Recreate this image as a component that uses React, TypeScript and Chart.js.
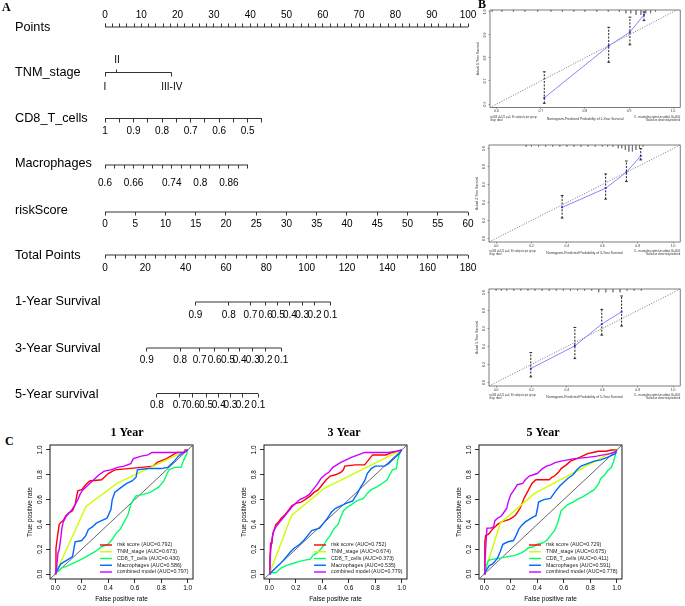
import React, { useEffect, useRef } from 'react';
import { Chart, registerables } from 'chart.js';

Chart.register(...registerables);

const SANS = '"Liberation Sans", Arial, Helvetica, sans-serif';
const SERIF = '"Liberation Serif", "Times New Roman", serif';

// ---------------- Panel A : nomogram ----------------
const NOMO_ROW_NAMES = ['Points', 'TNM_stage', 'CD8_T_cells', 'Macrophages', 'riskScore', 'Total Points', '1-Year Survival', '3-Year Survival', '5-Year survival'];
const POINTS_MAX = 100;
const POINTS_LABEL_STEP = 10;
const POINTS_MINOR_STEP = 2;
const TNM_LEVELS = ['I', 'II', 'III-IV'];
const TNM_POINTS = [0, 3.3, 18.4];
const CD8_TICK_VALUES = [1, 0.95, 0.9, 0.85, 0.8, 0.75, 0.7, 0.65, 0.6, 0.55, 0.5, 0.45];
const CD8_LABELS = ['1', '0.9', '0.8', '0.7', '0.6', '0.5'];
const CD8_POINTS_PER_UNIT = 78.6;
const MACRO_TICK_VALUES = [0.6, 0.62, 0.64, 0.66, 0.68, 0.7, 0.72, 0.74, 0.76, 0.78, 0.8, 0.82, 0.84, 0.86, 0.88, 0.9];
const MACRO_LABELS = ['0.6', '0.66', '0.74', '0.8', '0.86'];
const MACRO_MIN = 0.6;
const MACRO_POINTS_PER_UNIT = 131.3;
const RISK_TICK_VALUES = [0, 5, 10, 15, 20, 25, 30, 35, 40, 45, 50, 55, 60];
const RISK_MAX = 60;
const TOTAL_MAX = 180;
const TOTAL_LABEL_STEP = 20;
const TOTAL_MINOR_STEP = 5;
const SURV_1Y_LABELS = ['0.9', '0.8', '0.7', '0.6', '0.5', '0.4', '0.3', '0.2', '0.1'];
const SURV_1Y_TOTAL = [44.8, 61.4, 72.1, 79.6, 85.7, 91.7, 97.8, 103.9, 111.8];
const SURV_3Y_LABELS = ['0.9', '0.8', '0.7', '0.6', '0.5', '0.4', '0.3', '0.2', '0.1'];
const SURV_3Y_TOTAL = [20.7, 37.3, 46.9, 54.4, 61.0, 66.8, 73.3, 79.6, 87.4];
const SURV_5Y_LABELS = ['0.8', '0.7', '0.6', '0.5', '0.4', '0.3', '0.2', '0.1'];
const SURV_5Y_TOTAL = [25.7, 37.0, 43.6, 50.1, 56.4, 62.2, 68.3, 76.0];

// ---------------- Panel B : calibration ----------------
const CAL_1Y_PRED = [0.708, 0.854, 0.902, 0.934];
const CAL_1Y_OBS = [0.627, 0.852, 0.912, 0.987];
const CAL_1Y_LO = [0.603, 0.781, 0.857, 0.962];
const CAL_1Y_HI = [0.740, 0.933, 0.977, 1.0];
const CAL_1Y_RUG_X = [0.59, 0.612, 0.638, 0.664, 0.693, 0.723, 0.749, 0.775, 0.80, 0.827, 0.853, 0.878, 0.893, 0.904, 0.916, 0.927, 0.938, 0.949, 0.96];
const CAL_1Y_RUG_N = [1, 1, 1, 1, 1, 1, 1, 1, 1, 1, 1, 1, 2, 2, 3, 3, 2, 2, 1];
const CAL_1Y_TICKS = [0.6, 0.7, 0.8, 0.9, 1.0];

const CAL_3Y_PRED = [0.373, 0.619, 0.736, 0.817];
const CAL_3Y_OBS = [0.345, 0.559, 0.737, 0.918];
const CAL_3Y_LO = [0.226, 0.437, 0.633, 0.874];
const CAL_3Y_HI = [0.478, 0.718, 0.862, 1.0];
const CAL_3Y_RUG_X = [0.17, 0.2, 0.24, 0.28, 0.32, 0.36, 0.40, 0.44, 0.48, 0.52, 0.56, 0.60, 0.63, 0.66, 0.69, 0.71, 0.73, 0.75, 0.77, 0.79, 0.81, 0.83];
const CAL_3Y_RUG_N = [1, 1, 1, 1, 1, 1, 1, 1, 1, 1, 1, 1, 1, 1, 2, 2, 3, 4, 4, 3, 2, 1];

const CAL_5Y_PRED = [0.196, 0.445, 0.597, 0.709];
const CAL_5Y_OBS = [0.154, 0.407, 0.649, 0.787];
const CAL_5Y_LO = [0.061, 0.265, 0.526, 0.627];
const CAL_5Y_HI = [0.332, 0.612, 0.813, 0.962];
const CAL_5Y_RUG_X = [0.0, 0.03, 0.06, 0.1, 0.14, 0.18, 0.22, 0.26, 0.3, 0.34, 0.38, 0.42, 0.46, 0.5, 0.54, 0.58, 0.62, 0.66, 0.7, 0.74, 0.78, 0.82];
const CAL_5Y_RUG_N = [1, 1, 1, 1, 1, 1, 1, 1, 1, 1, 1, 1, 1, 1, 1, 2, 2, 2, 2, 1, 1, 1];
const CAL_UNIT_TICKS = [0, 0.2, 0.4, 0.6, 0.8, 1.0];

// ---------------- Panel C : ROC ----------------
const ROC_TICKS = [0, 0.2, 0.4, 0.6, 0.8, 1.0];
const ROC_COLORS = ['#FF0000', '#CCFF00', '#00FF66', '#0066FF', '#CC00FF'];
const ROC_MODELS = ['risk score', 'TNM_stage', 'CD8_T_cells', 'Macrophages', 'combined model'];
const AUC_1Y = ['0.792', '0.673', '0.430', '0.586', '0.797'];
const AUC_3Y = ['0.752', '0.674', '0.373', '0.535', '0.779'];
const AUC_5Y = ['0.729', '0.675', '0.411', '0.591', '0.778'];

const RISK_1Y = [[0, 0], [0.005, 0.21], [0.01, 0.25], [0.02, 0.33], [0.03, 0.40], [0.045, 0.42], [0.06, 0.43], [0.08, 0.47], [0.10, 0.49], [0.13, 0.51], [0.15, 0.56], [0.16, 0.62], [0.17, 0.67], [0.20, 0.68], [0.23, 0.72], [0.26, 0.75], [0.35, 0.76], [0.40, 0.81], [0.45, 0.84], [0.55, 0.85], [0.65, 0.86], [0.74, 0.87], [0.77, 0.90], [0.84, 0.93], [0.92, 0.98], [0.97, 0.98], [0.98, 1.0], [1, 1]];
const TNM_1Y = [[0, 0], [0.233, 0.547], [0.469, 0.733], [1, 1]];
const CD8_1Y = [[0, 0], [0.01, 0.02], [0.03, 0.03], [0.05, 0.05], [0.08, 0.06], [0.12, 0.08], [0.16, 0.10], [0.20, 0.12], [0.25, 0.15], [0.30, 0.18], [0.35, 0.22], [0.40, 0.24], [0.43, 0.28], [0.46, 0.33], [0.49, 0.36], [0.52, 0.42], [0.55, 0.48], [0.57, 0.56], [0.59, 0.60], [0.61, 0.63], [0.66, 0.64], [0.72, 0.66], [0.78, 0.70], [0.82, 0.75], [0.84, 0.80], [0.86, 0.84], [0.90, 0.86], [0.95, 0.86], [0.97, 0.92], [0.99, 0.96], [1, 1]];
const MAC_1Y = [[0, 0], [0.02, 0.04], [0.04, 0.08], [0.07, 0.10], [0.10, 0.12], [0.13, 0.14], [0.14, 0.20], [0.15, 0.26], [0.20, 0.27], [0.23, 0.31], [0.25, 0.36], [0.28, 0.38], [0.31, 0.41], [0.35, 0.43], [0.39, 0.45], [0.42, 0.52], [0.43, 0.60], [0.45, 0.66], [0.50, 0.70], [0.54, 0.73], [0.58, 0.75], [0.61, 0.78], [0.62, 0.84], [0.70, 0.85], [0.80, 0.85], [0.85, 0.86], [0.89, 0.90], [0.93, 0.95], [0.97, 0.98], [1, 1]];
const COMB_1Y = [[0, 0], [0.01, 0.05], [0.02, 0.17], [0.03, 0.20], [0.04, 0.28], [0.05, 0.37], [0.06, 0.42], [0.08, 0.46], [0.10, 0.49], [0.12, 0.51], [0.15, 0.56], [0.17, 0.60], [0.19, 0.65], [0.21, 0.68], [0.24, 0.71], [0.27, 0.74], [0.30, 0.77], [0.33, 0.80], [0.37, 0.83], [0.42, 0.84], [0.47, 0.86], [0.52, 0.87], [0.57, 0.89], [0.59, 0.93], [0.65, 0.95], [0.70, 0.96], [0.73, 0.98], [0.85, 0.98], [0.97, 0.98], [1, 1]];

const RISK_3Y = [[0, 0], [0.005, 0.13], [0.01, 0.25], [0.02, 0.25], [0.025, 0.31], [0.035, 0.35], [0.05, 0.40], [0.07, 0.42], [0.09, 0.45], [0.12, 0.48], [0.15, 0.52], [0.17, 0.55], [0.20, 0.57], [0.24, 0.58], [0.27, 0.60], [0.31, 0.63], [0.34, 0.66], [0.37, 0.68], [0.40, 0.72], [0.43, 0.76], [0.46, 0.79], [0.50, 0.80], [0.54, 0.82], [0.56, 0.84], [0.57, 0.87], [0.65, 0.88], [0.72, 0.88], [0.75, 0.92], [0.78, 0.96], [0.88, 0.96], [0.93, 0.98], [0.97, 0.99], [1, 1]];
const TNM_3Y = [[0, 0], [0.168, 0.472], [0.418, 0.693], [1, 1]];
const CD8_3Y = [[0, 0], [0.02, 0.01], [0.05, 0.01], [0.07, 0.03], [0.09, 0.05], [0.13, 0.07], [0.18, 0.085], [0.22, 0.10], [0.26, 0.11], [0.31, 0.12], [0.33, 0.15], [0.36, 0.17], [0.38, 0.19], [0.41, 0.23], [0.43, 0.27], [0.46, 0.31], [0.48, 0.35], [0.50, 0.38], [0.52, 0.40], [0.54, 0.46], [0.56, 0.51], [0.59, 0.54], [0.62, 0.56], [0.66, 0.59], [0.71, 0.61], [0.74, 0.65], [0.77, 0.68], [0.81, 0.70], [0.84, 0.72], [0.89, 0.76], [0.91, 0.80], [0.93, 0.84], [0.96, 0.85], [0.97, 0.92], [0.98, 0.96], [1, 1]];
const MAC_3Y = [[0, 0], [0.04, 0.04], [0.08, 0.08], [0.13, 0.14], [0.16, 0.18], [0.19, 0.21], [0.23, 0.24], [0.26, 0.27], [0.29, 0.31], [0.32, 0.35], [0.35, 0.36], [0.38, 0.37], [0.41, 0.41], [0.44, 0.45], [0.47, 0.50], [0.50, 0.53], [0.54, 0.55], [0.58, 0.57], [0.63, 0.59], [0.66, 0.64], [0.69, 0.70], [0.72, 0.75], [0.74, 0.81], [0.77, 0.85], [0.80, 0.87], [0.87, 0.87], [0.90, 0.89], [0.93, 0.92], [0.96, 0.95], [0.98, 0.97], [1, 1]];
const COMB_3Y = [[0, 0], [0.005, 0.10], [0.01, 0.18], [0.02, 0.28], [0.03, 0.34], [0.05, 0.38], [0.08, 0.42], [0.11, 0.46], [0.14, 0.50], [0.17, 0.54], [0.20, 0.57], [0.23, 0.60], [0.27, 0.62], [0.30, 0.64], [0.33, 0.68], [0.36, 0.72], [0.39, 0.77], [0.42, 0.80], [0.45, 0.82], [0.48, 0.86], [0.51, 0.88], [0.54, 0.90], [0.58, 0.92], [0.62, 0.94], [0.67, 0.96], [0.72, 0.98], [0.90, 0.98], [0.96, 0.99], [1, 1]];

const RISK_5Y = [[0, 0], [0.003, 0.10], [0.005, 0.26], [0.01, 0.31], [0.03, 0.32], [0.04, 0.33], [0.06, 0.36], [0.08, 0.38], [0.10, 0.40], [0.13, 0.42], [0.16, 0.43], [0.19, 0.44], [0.22, 0.46], [0.24, 0.48], [0.27, 0.53], [0.29, 0.58], [0.30, 0.61], [0.32, 0.65], [0.34, 0.69], [0.36, 0.73], [0.39, 0.76], [0.42, 0.76], [0.46, 0.76], [0.49, 0.76], [0.51, 0.78], [0.53, 0.79], [0.56, 0.82], [0.58, 0.85], [0.62, 0.88], [0.65, 0.91], [0.70, 0.93], [0.74, 0.95], [0.78, 0.97], [0.82, 0.98], [0.86, 0.99], [0.92, 0.99], [0.96, 1.0], [1, 1]];
const TNM_5Y = [[0, 0], [0.12, 0.41], [0.38, 0.65], [1, 1]];
const CD8_5Y = [[0, 0], [0.01, 0.04], [0.02, 0.08], [0.03, 0.11], [0.07, 0.12], [0.13, 0.13], [0.18, 0.14], [0.23, 0.15], [0.28, 0.17], [0.31, 0.19], [0.33, 0.21], [0.37, 0.22], [0.40, 0.24], [0.44, 0.25], [0.47, 0.27], [0.50, 0.31], [0.53, 0.35], [0.55, 0.40], [0.57, 0.47], [0.58, 0.51], [0.61, 0.54], [0.63, 0.56], [0.67, 0.58], [0.70, 0.60], [0.74, 0.62], [0.77, 0.64], [0.80, 0.66], [0.83, 0.68], [0.86, 0.72], [0.88, 0.77], [0.91, 0.80], [0.93, 0.83], [0.96, 0.86], [0.975, 0.90], [0.985, 0.94], [0.99, 0.96], [1, 1]];
const MAC_5Y = [[0, 0], [0.02, 0.04], [0.04, 0.07], [0.06, 0.08], [0.08, 0.10], [0.10, 0.13], [0.12, 0.18], [0.14, 0.24], [0.18, 0.26], [0.22, 0.27], [0.24, 0.31], [0.26, 0.36], [0.28, 0.39], [0.31, 0.42], [0.34, 0.44], [0.37, 0.46], [0.39, 0.47], [0.40, 0.52], [0.41, 0.58], [0.45, 0.60], [0.50, 0.61], [0.52, 0.64], [0.54, 0.67], [0.57, 0.71], [0.60, 0.74], [0.63, 0.77], [0.67, 0.80], [0.70, 0.84], [0.73, 0.87], [0.78, 0.89], [0.83, 0.91], [0.88, 0.92], [0.93, 0.94], [0.97, 0.96], [0.99, 0.97], [1, 1]];
const COMB_5Y = [[0, 0], [0.005, 0.08], [0.01, 0.20], [0.02, 0.37], [0.05, 0.37], [0.07, 0.38], [0.08, 0.43], [0.10, 0.45], [0.13, 0.47], [0.15, 0.50], [0.17, 0.53], [0.18, 0.58], [0.20, 0.64], [0.22, 0.67], [0.25, 0.72], [0.29, 0.73], [0.31, 0.76], [0.34, 0.79], [0.37, 0.80], [0.40, 0.81], [0.42, 0.83], [0.44, 0.85], [0.47, 0.87], [0.50, 0.88], [0.54, 0.90], [0.58, 0.91], [0.63, 0.92], [0.68, 0.93], [0.78, 0.94], [0.85, 0.95], [0.90, 0.96], [0.95, 0.97], [0.98, 0.98], [1, 1]];

// ---------------- helpers ----------------
const near = (a: number, b: number) => Math.abs(a - b) < 1e-6;

type Tick = { p: number; label: string };
type Row = { id: string; lineY: number; ticks: Tick[]; up?: boolean; pad: number; line?: boolean };

function buildNomoRows(): Row[] {
  const pointsTicks: Tick[] = [];
  for (let v = 0; v <= POINTS_MAX + 1e-9; v += POINTS_MINOR_STEP) {
    pointsTicks.push({ p: v, label: v % POINTS_LABEL_STEP === 0 ? String(v) : '' });
  }
  const totalTicks: Tick[] = [];
  for (let t = 0; t <= TOTAL_MAX + 1e-9; t += TOTAL_MINOR_STEP) {
    totalTicks.push({ p: (t / TOTAL_MAX) * POINTS_MAX, label: t % TOTAL_LABEL_STEP === 0 ? String(t) : '' });
  }
  const cd8Ticks = CD8_TICK_VALUES.map((v) => ({
    p: (1 - v) * CD8_POINTS_PER_UNIT,
    label: CD8_LABELS.find((l) => near(parseFloat(l), v)) || '',
  }));
  const macroTicks = MACRO_TICK_VALUES.map((v) => ({
    p: (v - MACRO_MIN) * MACRO_POINTS_PER_UNIT,
    label: MACRO_LABELS.find((l) => near(parseFloat(l), v)) || '',
  }));
  const riskTicks = RISK_TICK_VALUES.map((v) => ({ p: (v / RISK_MAX) * POINTS_MAX, label: String(v) }));
  const surv = (labels: string[], totals: number[]) =>
    labels.map((l, i) => ({ p: (totals[i] / TOTAL_MAX) * POINTS_MAX, label: l }));
  return [
    { id: 'xPoints', lineY: 27, ticks: pointsTicks, up: true, pad: -14.5, line: true },
    { id: 'xTnmUp', lineY: 72.5, ticks: [{ p: TNM_POINTS[1], label: TNM_LEVELS[1] }], up: true, pad: -15 },
    { id: 'xTnm', lineY: 72.5, ticks: [{ p: TNM_POINTS[0], label: TNM_LEVELS[0] }, { p: TNM_POINTS[2], label: TNM_LEVELS[2] }], pad: 5, line: true },
    { id: 'xCd8', lineY: 118.5, ticks: cd8Ticks, pad: 3.5, line: true },
    { id: 'xMacro', lineY: 165, ticks: macroTicks, pad: 8.5, line: true },
    { id: 'xRisk', lineY: 212, ticks: riskTicks, pad: 2.5, line: true },
    { id: 'xTotal', lineY: 255, ticks: totalTicks, pad: 3.5, line: true },
    { id: 'xS1', lineY: 302, ticks: surv(SURV_1Y_LABELS, SURV_1Y_TOTAL), pad: 3.5, line: true },
    { id: 'xS3', lineY: 348, ticks: surv(SURV_3Y_LABELS, SURV_3Y_TOTAL), pad: 3, line: true },
    { id: 'xS5', lineY: 393.5, ticks: surv(SURV_5Y_LABELS, SURV_5Y_TOTAL), pad: 2.5, line: true },
  ];
}

const ROW_LABEL_Y = [27, 72, 118, 163, 210, 255, 301.5, 348, 394];

function nomogramConfig(): any {
  const rows = buildNomoRows();
  const scales: any = {
    y: {
      type: 'linear', axis: 'y', position: 'left', min: 10, max: 405, reverse: true,
      grid: { display: false }, border: { display: false },
      afterBuildTicks: (s: any) => { s.ticks = ROW_LABEL_Y.map((v) => ({ value: v })); },
      ticks: {
        autoSkip: false, crossAlign: 'far', padding: 0, color: '#000',
        font: { family: SANS, size: 12.7 },
        callback: (_v: any, i: number) => NOMO_ROW_NAMES[i],
      },
      afterFit: (s: any) => { s.width = 90; },
    },
  };
  rows.forEach((r) => {
    scales[r.id] = {
      type: 'linear', axis: 'x', position: { y: r.lineY }, min: 0, max: POINTS_MAX,
      grid: { display: true, drawOnChartArea: false, drawTicks: true, tickLength: r.up ? -3.5 : 3.5, color: '#333', lineWidth: 1 },
      border: { display: false },
      afterBuildTicks: (s: any) => { s.ticks = r.ticks.map((t) => ({ value: t.p })); },
      ticks: {
        autoSkip: false, maxRotation: 0, minRotation: 0, padding: r.pad, color: '#000',
        font: { family: SANS, size: 10 },
        callback: (_v: any, i: number) => (r.ticks[i] ? r.ticks[i].label : ''),
      },
    };
  });
  const datasets = rows.filter((r) => r.line).map((r) => {
    const ps = r.ticks.map((t) => t.p);
    return {
      data: [{ x: Math.min(...ps), y: r.lineY }, { x: Math.max(...ps), y: r.lineY }],
      xAxisID: 'xPoints', yAxisID: 'y', showLine: true, borderColor: '#333', borderWidth: 1, pointRadius: 0,
    };
  });
  return {
    type: 'scatter',
    data: { datasets },
    options: {
      animation: false, responsive: false, maintainAspectRatio: false, events: [],
      layout: { padding: { left: 15, right: 15, top: 10, bottom: 10 } },
      plugins: { legend: { display: false }, tooltip: { enabled: false }, title: { display: false } },
      scales,
    },
  };
}

// plot box plugin
const boxPlugin = {
  id: 'plotBox',
  beforeDatasetsDraw(chart: any, _a: any, opts: any) {
    const { ctx, chartArea } = chart;
    ctx.save();
    ctx.strokeStyle = (opts && opts.color) || '#000';
    ctx.lineWidth = (opts && opts.width) || 1;
    ctx.strokeRect(chartArea.left, chartArea.top, chartArea.right - chartArea.left, chartArea.bottom - chartArea.top);
    ctx.restore();
  },
};

// main title of each ROC panel (R style, offset from plot centre as in the figure)
const rocTitlePlugin = {
  id: 'rocTitle',
  afterDraw(chart: any, _a: any, opts: any) {
    const { ctx, chartArea } = chart;
    ctx.save();
    ctx.font = `bold 12px ${SERIF}`;
    ctx.fillStyle = '#000';
    ctx.textAlign = 'center';
    ctx.textBaseline = 'middle';
    ctx.fillText(opts.text, (chartArea.left + chartArea.right) / 2 + opts.dx, opts.y);
    ctx.restore();
  },
};

// ROC legend (R style, bottom-right, no box)
const rocLegendPlugin = {
  id: 'rocLegend',
  afterDatasetsDraw(chart: any, _a: any, opts: any) {
    const { ctx, chartArea } = chart;
    const items = chart.data.datasets.filter((d: any) => d.showInLegend);
    ctx.save();
    ctx.font = `${opts.size}px ${SANS}`;
    ctx.textBaseline = 'middle';
    ctx.textAlign = 'left';
    const x0 = chartArea.left + opts.lineStart;
    items.forEach((d: any, i: number) => {
      const y = chartArea.bottom - opts.bottomGap - (items.length - 1 - i) * opts.rowGap;
      ctx.strokeStyle = d.borderColor;
      ctx.lineWidth = 1.4;
      ctx.beginPath();
      ctx.moveTo(x0, y);
      ctx.lineTo(x0 + opts.lineLen, y);
      ctx.stroke();
      ctx.fillStyle = '#222';
      ctx.fillText(d.label, x0 + opts.textGap, y);
    });
    ctx.restore();
  },
};

// calibration footer notes
const calFooterPlugin = {
  id: 'calFooter',
  afterDraw(chart: any, _a: any, opts: any) {
    const { ctx, chartArea } = chart;
    ctx.save();
    ctx.font = `${opts.size}px ${SANS}`;
    ctx.fillStyle = '#333';
    ctx.textBaseline = 'middle';
    ctx.textAlign = 'left';
    opts.left.forEach((t: string, i: number) => ctx.fillText(t, chartArea.left, chartArea.bottom + opts.y0 + i * opts.gap));
    ctx.textAlign = 'right';
    opts.right.forEach((t: string, i: number) => ctx.fillText(t, chartArea.right, chartArea.bottom + opts.y0 + i * opts.gap));
    ctx.restore();
  },
};

const ROC_MIN = -0.04;
const ROC_MAX = 1.04;

function rocConfig(title: string, titleDx: number, curves: number[][][], aucs: string[], padRight: number): any {
  const datasets: any[] = [{
    data: [{ x: ROC_MIN, y: ROC_MIN }, { x: ROC_MAX, y: ROC_MAX }],
    showLine: true, borderColor: '#555', borderWidth: 0.9, pointRadius: 0, order: 100,
  }];
  curves.forEach((c, i) => {
    datasets.push({
      label: `${ROC_MODELS[i]} (AUC=${aucs[i]})`, showInLegend: true,
      data: c.map(([x, y]) => ({ x, y })),
      showLine: true, borderColor: ROC_COLORS[i], borderWidth: 1.4, pointRadius: 0, order: 10 - i,
    });
  });
  const tickFont = { family: SANS, size: 6.5 };
  return {
    type: 'scatter',
    data: { datasets },
    plugins: [boxPlugin, rocLegendPlugin, rocTitlePlugin],
    options: {
      animation: false, responsive: false, maintainAspectRatio: false, events: [],
      layout: { padding: { left: 0, right: padRight, top: 25, bottom: 0 } },
      plugins: {
        legend: { display: false }, tooltip: { enabled: false }, title: { display: false },
        rocTitle: { text: title, dx: titleDx, y: 13 },
        plotBox: { color: '#000', width: 0.9 },
        rocLegend: { size: 5.3, lineStart: 50, lineLen: 12, textGap: 17, bottomGap: 7, rowGap: 6.75 },
      },
      scales: {
        x: {
          type: 'linear', min: ROC_MIN, max: ROC_MAX,
          afterBuildTicks: (s: any) => { s.ticks = ROC_TICKS.map((v) => ({ value: v })); },
          ticks: { autoSkip: false, maxRotation: 0, minRotation: 0, padding: 1.4, color: '#000', font: tickFont, callback: (v: any) => Number(v).toFixed(1) },
          grid: { drawOnChartArea: false, tickLength: 4, color: '#000', lineWidth: 0.8 },
          border: { display: false },
          title: { display: true, text: 'False positive rate', color: '#000', font: tickFont, padding: { top: 0, bottom: 2.4 } },
          afterFit: (s: any) => { s.height = 27; },
        },
        y: {
          type: 'linear', min: ROC_MIN, max: ROC_MAX,
          afterBuildTicks: (s: any) => { s.ticks = ROC_TICKS.map((v) => ({ value: v })); },
          ticks: { autoSkip: false, minRotation: 90, maxRotation: 90, crossAlign: 'center', padding: 1.3, color: '#000', font: tickFont, callback: (v: any) => Number(v).toFixed(1) },
          grid: { drawOnChartArea: false, tickLength: 4, color: '#000', lineWidth: 0.8 },
          border: { display: false },
          title: { display: true, text: 'True positive rate', color: '#000', font: tickFont, padding: { top: 6, bottom: 0 } },
          afterFit: (s: any) => { s.width = 30; },
        },
      },
    },
  };
}

type CalSpec = {
  year: string; pred: number[]; obs: number[]; lo: number[]; hi: number[];
  rugX: number[]; rugN: number[]; xMin: number; xMax: number; yMin: number; yMax: number;
  ticks: number[]; padTop: number; padRight: number; xAxisH: number;
};

function calConfig(s: CalSpec): any {
  const rugUnit = 0.017 * (s.yMax - s.yMin);
  const rugData: any[] = [];
  s.rugX.forEach((x, i) => {
    rugData.push({ x, y: s.yMax }, { x, y: s.yMax - s.rugN[i] * rugUnit }, { x, y: null });
  });
  const errData: any[] = [];
  s.pred.forEach((x, i) => {
    errData.push({ x, y: s.lo[i] }, { x, y: s.hi[i] }, { x, y: null });
  });
  const lo = Math.min(s.xMin, s.yMin);
  const hi = Math.max(s.xMax, s.yMax);
  const datasets: any[] = [
    { data: [{ x: lo, y: lo }, { x: hi, y: hi }], showLine: true, borderColor: '#666', borderWidth: 0.9, borderDash: [1, 1.6], pointRadius: 0, order: 40 },
    { data: rugData, showLine: true, spanGaps: false, borderColor: '#666', borderWidth: 0.6, pointRadius: 0, order: 30 },
    { data: errData, showLine: true, spanGaps: false, borderColor: '#000', borderWidth: 0.9, borderDash: [2, 1.4], pointStyle: 'line', pointRadius: 1.4, pointBorderColor: '#000', pointBorderWidth: 0.8, order: 20 },
    { data: s.pred.map((x, i) => ({ x, y: s.obs[i] })), showLine: true, borderColor: '#8585ff', borderWidth: 1, pointStyle: 'rect', pointRadius: 1.2, pointBackgroundColor: '#2020ee', pointBorderColor: '#2020ee', pointBorderWidth: 0, order: 10 },
  ];
  const f = { family: SANS, size: 3.4 };
  const fmt = (v: any) => Number(v).toFixed(1);
  return {
    type: 'scatter',
    data: { datasets },
    plugins: [boxPlugin, calFooterPlugin],
    options: {
      animation: false, responsive: false, maintainAspectRatio: false, events: [],
      layout: { padding: { left: 0, right: s.padRight, top: s.padTop, bottom: 0 } },
      plugins: {
        legend: { display: false }, tooltip: { enabled: false }, title: { display: false },
        plotBox: { color: '#444', width: 0.7 },
        calFooter: {
          size: 2.6, y0: 9.5, gap: 3,
          left: ['n=363 d=121 p=4, 90 subjects per group', 'Gray: ideal'],
          right: ['X - resampling optimism added, B=1000', 'Based on observed-predicted'],
        },
      },
      scales: {
        x: {
          type: 'linear', min: s.xMin, max: s.xMax,
          afterBuildTicks: (sc: any) => { sc.ticks = s.ticks.map((v) => ({ value: v })); },
          ticks: { autoSkip: false, maxRotation: 0, minRotation: 0, padding: 0.4, color: '#333', font: f, callback: fmt },
          grid: { drawOnChartArea: false, tickLength: 1.5, color: '#444', lineWidth: 0.5 },
          border: { display: false },
          title: { display: true, text: `Nomogram-Predicted Probability of ${s.year} Survival`, color: '#333', font: f, padding: { top: 0, bottom: 4.4 } },
          afterFit: (sc: any) => { sc.height = s.xAxisH; },
        },
        y: {
          type: 'linear', min: s.yMin, max: s.yMax,
          afterBuildTicks: (sc: any) => { sc.ticks = s.ticks.map((v) => ({ value: v })); },
          ticks: { autoSkip: false, minRotation: 90, maxRotation: 90, crossAlign: 'center', padding: 1.1, color: '#333', font: f, callback: fmt },
          grid: { drawOnChartArea: false, tickLength: 1.5, color: '#444', lineWidth: 0.5 },
          border: { display: false },
          title: { display: true, text: `Actual ${s.year} Survival`, color: '#333', font: f, padding: { top: 9.9, bottom: 0 } },
          afterFit: (sc: any) => { sc.width = 24; },
        },
      },
    },
  };
}

function ChartBox(props: { left: number; top: number; width: number; height: number; make: () => any }) {
  const ref = useRef<HTMLCanvasElement | null>(null);
  useEffect(() => {
    if (!ref.current) return;
    const chart = new Chart(ref.current, props.make());
    return () => chart.destroy();
  }, []);
  return (
    <canvas
      ref={ref}
      width={props.width}
      height={props.height}
      style={{ position: 'absolute', left: props.left, top: props.top, width: props.width, height: props.height }}
    />
  );
}

const letterStyle = (left: number, top: number): any => ({
  position: 'absolute', left, top, font: `bold 12px ${SERIF}`, lineHeight: '12px', color: '#000', margin: 0,
});

export default function App() {
  return (
    <div style={{ position: 'fixed', left: 0, top: 0, width: 685, height: 606, background: '#fff', overflow: 'hidden' }}>
      <ChartBox left={0} top={0} width={483} height={415} make={nomogramConfig} />

      <ChartBox left={466} top={0} width={219} height={126} make={() => calConfig({
        year: '1-Year', pred: CAL_1Y_PRED, obs: CAL_1Y_OBS, lo: CAL_1Y_LO, hi: CAL_1Y_HI,
        rugX: CAL_1Y_RUG_X, rugN: CAL_1Y_RUG_N, xMin: 0.585, xMax: 1.016, yMin: 0.585, yMax: 1.008,
        ticks: CAL_1Y_TICKS, padTop: 10, padRight: 1, xAxisH: 18.5,
      })} />
      <ChartBox left={465} top={130} width={220} height={130} make={() => calConfig({
        year: '3-Year', pred: CAL_3Y_PRED, obs: CAL_3Y_OBS, lo: CAL_3Y_LO, hi: CAL_3Y_HI,
        rugX: CAL_3Y_RUG_X, rugN: CAL_3Y_RUG_N, xMin: -0.04, xMax: 1.04, yMin: -0.04, yMax: 1.04,
        ticks: CAL_UNIT_TICKS, padTop: 15, padRight: 2, xAxisH: 18,
      })} />
      <ChartBox left={465} top={274} width={220} height={130} make={() => calConfig({
        year: '5-Year', pred: CAL_5Y_PRED, obs: CAL_5Y_OBS, lo: CAL_5Y_LO, hi: CAL_5Y_HI,
        rugX: CAL_5Y_RUG_X, rugN: CAL_5Y_RUG_N, xMin: -0.04, xMax: 1.04, yMin: -0.04, yMax: 1.04,
        ticks: CAL_UNIT_TICKS, padTop: 15, padRight: 2, xAxisH: 18,
      })} />

      <ChartBox left={20} top={420} width={214} height={186} make={() => rocConfig('1 Year', 5.5, [RISK_1Y, TNM_1Y, CD8_1Y, MAC_1Y, COMB_1Y], AUC_1Y, 41)} />
      <ChartBox left={234} top={420} width={220} height={186} make={() => rocConfig('3 Year', 8.5, [RISK_3Y, TNM_3Y, CD8_3Y, MAC_3Y, COMB_3Y], AUC_3Y, 47)} />
      <ChartBox left={449} top={420} width={188} height={186} make={() => rocConfig('5 Year', -7.5, [RISK_5Y, TNM_5Y, CD8_5Y, MAC_5Y, COMB_5Y], AUC_5Y, 15)} />

      <div style={letterStyle(2, 1)}>A</div>
      <div style={letterStyle(478, -2)}>B</div>
      <div style={letterStyle(5, 434.5)}>C</div>
    </div>
  );
}
